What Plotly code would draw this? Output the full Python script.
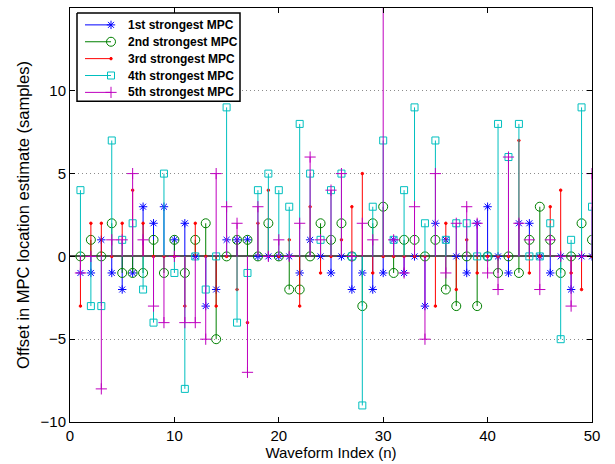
import plotly.graph_objects as go

# Waveform indices and per-waveform offsets of the five strongest MPCs
waveform_index = list(range(1, 51))

mpc1 = [-1, -1, 1, -1, -2, -1, 3, 2, 3, 1,
        2, 0, -3, -2, 1, 1, 1, 0, 0, 0,
        0, -1, 1, 0, -1, 0, -2, -1, -2, -1,
        1, -1, 0, -3, 2, 1, 0, -1, 2, 3,
        0, -1, 2, 2, 0, -1, 0, -2, 0, 0]
mpc2 = [0, 1, 0, 2, -1, -1, -1, 1, -1, 1,
        -1, 1, 2, -5, 0, 1, 1, 0, 2, 0,
        -2, -2, 0, 2, 1, 2, 0, -3, 2, 3,
        -1, 1, 1, 0, 1, -2, -3, 0, -3, 0,
        -1, 0, -1, 1, 3, 1, -1, 0, 2, 1]
mpc3 = [-3, 2, 2, 0, 2, 4, 2, 0, 0, 0,
        -3, 2, 0, -3, 0, -2, -4, 2, 4, 0,
        1, -3, 3, -1, 0, 1, 3, 5, -1, 0,
        0, 0, 0, 0, -3, 2, -2, 1, -1, 0,
        0, 0, 7, -1, 0, 3, 4, -1, -2, 0]
mpc4 = [4, -3, -3, 7, 1, 2, -2, -4, 5, -1,
        -8, 0, -2, 0, 9, -4, -1, 4, 5, 4,
        3, 8, 5, 1, 4, 5, 0, -9, 3, 7,
        1, 4, 9, 2, 7, 1, 2, 2, 0, 0,
        8, 6, 8, 0, 0, 2, -5, 1, 9, 3]
mpc5 = [-1, 0, -8, 1, 1, 5, 1, -3, -4, 0,
        -4, -4, -5, 5, 3, 2, -7, 3, 0, 1,
        0, 2, 6, 1, 4, 5, 0, 2, 1, 16,
        1, -1, 3, -5, 5, -1, 2, 3, 2, -1,
        -2, 6, 2, 1, -2, 1, 0, -3, 0, 5]

series_names = ["1st strongest MPC", "2nd strongest MPC", "3rd strongest MPC",
                "4th strongest MPC", "5th strongest MPC"]
series_values = [mpc1, mpc2, mpc3, mpc4, mpc5]

# MATLAB-like stem styles
colors = ["#0000ff", "#008000", "#ff0000", "#00bfbf", "#bf00bf"]
symbols = ["asterisk-open", "circle-open", "circle", "square-open", "cross-thin-open"]
sizes = [7, 9, 2.5, 7, 8]

font_family = "Liberation Sans, Arial, Helvetica, sans-serif"

fig = go.Figure()

for name, vals, color, symbol, size in zip(series_names, series_values,
                                           colors, symbols, sizes):
    # vertical stems from the zero baseline
    sx, sy = [], []
    for n, v in zip(waveform_index, vals):
        sx += [n, n, None]
        sy += [0, v, None]
    fig.add_trace(go.Scatter(
        x=sx, y=sy, mode="lines", line=dict(color=color, width=1),
        showlegend=False, hoverinfo="skip"))
    # stem heads
    fig.add_trace(go.Scatter(
        x=waveform_index, y=vals, mode="markers", name=name,
        marker=dict(symbol=symbol, size=size, color=color,
                    line=dict(color=color, width=1)),
        showlegend=False))

# Legend box drawn on a pixel-unit overlay axis (origin at the figure's top-left)
ML, MR, MT, MB = 70, 23, 7, 40
W, H = 615, 464
box_l, box_r, box_t, box_b = 77, 240, 12, 101
row0, row_step = 24, 17
line_x0, line_x1, text_x = 85, 111, 126

fig.add_trace(go.Scatter(
    x=[box_l, box_r, box_r, box_l, box_l], y=[box_t, box_t, box_b, box_b, box_t],
    xaxis="x2", yaxis="y2", mode="lines", fill="toself", fillcolor="white",
    line=dict(color="black", width=1.5), showlegend=False, hoverinfo="skip"))

for i, (name, color, symbol, size) in enumerate(zip(series_names, colors,
                                                      symbols, sizes)):
    ry = row0 + i * row_step
    fig.add_trace(go.Scatter(
        x=[line_x0, line_x1], y=[ry, ry], xaxis="x2", yaxis="y2",
        mode="lines", line=dict(color=color, width=1),
        showlegend=False, hoverinfo="skip"))
    fig.add_trace(go.Scatter(
        x=[line_x1], y=[ry], xaxis="x2", yaxis="y2", mode="markers",
        marker=dict(symbol=symbol, size=size, color=color,
                    line=dict(color=color, width=1)),
        showlegend=False, hoverinfo="skip"))
    fig.add_annotation(
        x=text_x, y=ry, xref="x2", yref="y2", xanchor="left", yanchor="middle",
        text=f"<b>{name}</b>", showarrow=False,
        font=dict(family=font_family, size=12, color="black"))

fig.update_layout(
    width=W, height=H,
    margin=dict(l=ML, r=MR, t=MT, b=MB),
    paper_bgcolor="white", plot_bgcolor="white",
    font=dict(family=font_family, size=15, color="black"),
    showlegend=False,
    xaxis=dict(
        range=[0, 50], tickvals=[0, 10, 20, 30, 40, 50],
        showgrid=False, zeroline=False,
        showline=True, linecolor="black", linewidth=1, mirror="ticks",
        ticks="inside", ticklen=5, tickcolor="black",
        title=dict(text="Waveform Index (n)", standoff=2, font=dict(size=15)),
        tickfont=dict(size=15),
    ),
    yaxis=dict(
        range=[-10, 15], tickvals=[-10, -5, 0, 5, 10, 15],
        showgrid=True, gridcolor="#8c8c8c", griddash="1px,3px", gridwidth=1,
        zeroline=True, zerolinecolor="#555555", zerolinewidth=1.5,
        showline=True, linecolor="black", linewidth=1, mirror="ticks",
        ticks="inside", ticklen=5, tickcolor="black",
        title=dict(text="Offset in MPC location estimate (samples)", standoff=6,
                   font=dict(size=16.5)),
        tickfont=dict(size=15),
    ),
    xaxis2=dict(overlaying="x", anchor="y2", range=[ML, W - MR], visible=False,
                fixedrange=True),
    yaxis2=dict(overlaying="y", anchor="x2", range=[H - MB, MT], visible=False,
                fixedrange=True),
)

fig.write_html("out.html")
